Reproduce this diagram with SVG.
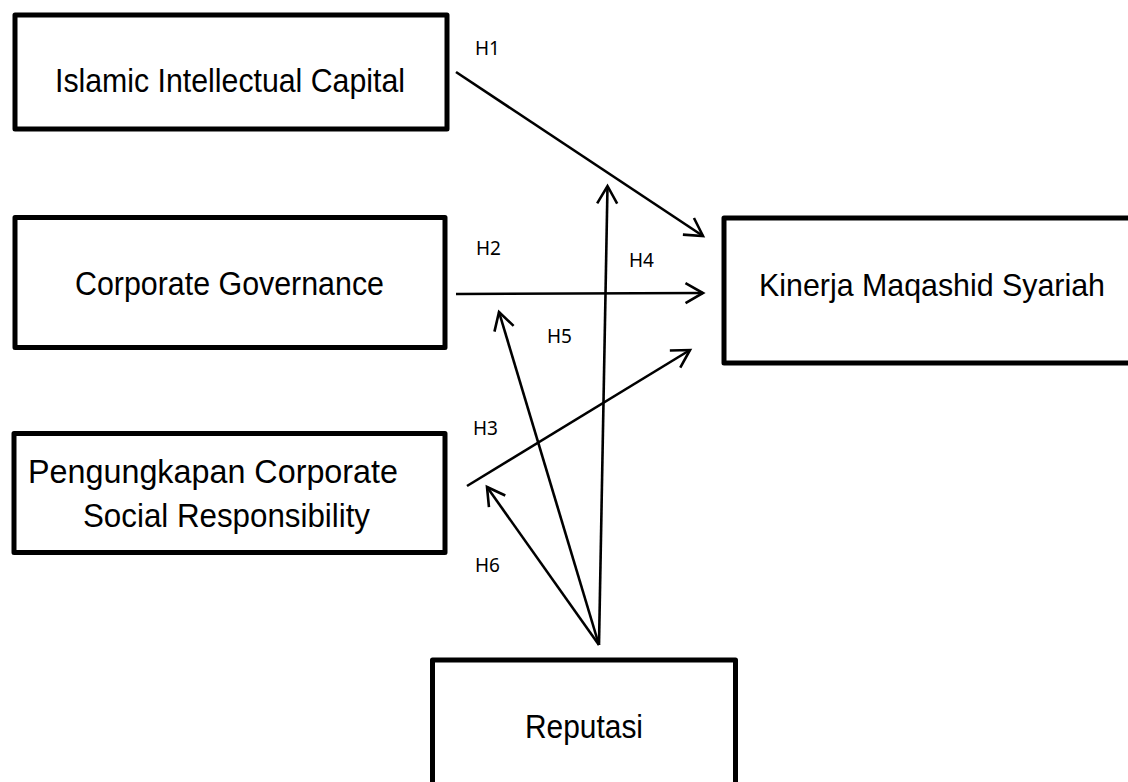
<svg xmlns="http://www.w3.org/2000/svg" width="1128" height="782" viewBox="0 0 1128 782">
  <style>
    .box { fill: #ffffff; stroke: #000000; stroke-width: 5; stroke-linejoin: round; }
    .lbl { font-family: "Liberation Sans", Arial, sans-serif; font-size: 34px; fill: #000000; }
    .h { font-family: "Noto Sans", "DejaVu Sans", sans-serif; font-size: 19px; fill: #000000; }
    .edge { fill: none; stroke: #000000; stroke-width: 2.6; marker-end: url(#arrow); }
  </style>
  <defs>
    <marker id="arrow" markerUnits="userSpaceOnUse" markerWidth="30" markerHeight="30" viewBox="-25 -15 30 30" refX="0" refY="0" orient="auto">
      <path d="M -17.5 -10 L 0 0 L -17.5 10" fill="none" stroke="#000000" stroke-width="2.6" stroke-linejoin="miter"/>
    </marker>
  </defs>
  <rect x="0" y="0" width="1128" height="782" fill="#ffffff"/>

  <g id="node-iic">
    <rect class="box" x="15" y="15" width="432" height="114"/>
    <text class="lbl" x="55" y="92" textLength="350" lengthAdjust="spacingAndGlyphs">Islamic Intellectual Capital</text>
  </g>
  <g id="node-cg">
    <rect class="box" x="15" y="217.5" width="430" height="130"/>
    <text class="lbl" x="75" y="295" textLength="309" lengthAdjust="spacingAndGlyphs">Corporate Governance</text>
  </g>
  <g id="node-csr">
    <rect class="box" x="14" y="433.5" width="431" height="119"/>
    <text class="lbl" x="28" y="483" textLength="370" lengthAdjust="spacingAndGlyphs">Pengungkapan Corporate</text>
    <text class="lbl" x="83" y="527" textLength="287" lengthAdjust="spacingAndGlyphs">Social Responsibility</text>
  </g>
  <g id="node-kms">
    <path class="box" d="M 1131 218 H 724 V 363 H 1131"/>
    <text class="lbl" x="759" y="296" font-size="32" textLength="346" lengthAdjust="spacingAndGlyphs" style="font-size:32px">Kinerja Maqashid Syariah</text>
  </g>
  <g id="node-rep">
    <rect class="box" x="432.5" y="660" width="303" height="140"/>
    <text class="lbl" x="525" y="738" textLength="118" lengthAdjust="spacingAndGlyphs">Reputasi</text>
  </g>

  <g id="connectors">
    <line class="edge" x1="456" y1="72" x2="703" y2="236"/>
    <line class="edge" x1="456" y1="294" x2="703" y2="293"/>
    <line class="edge" x1="467" y1="486" x2="690" y2="350"/>
    <line class="edge" x1="599" y1="645" x2="607.5" y2="186"/>
    <line class="edge" x1="599" y1="645" x2="499" y2="312"/>
    <line class="edge" x1="599" y1="645" x2="487" y2="487"/>
  </g>

  <g id="labels">
    <text class="h" x="475" y="55">H1</text>
    <text class="h" x="476" y="255">H2</text>
    <text class="h" x="473" y="435">H3</text>
    <text class="h" x="629" y="267">H4</text>
    <text class="h" x="547" y="343">H5</text>
    <text class="h" x="475" y="572">H6</text>
  </g>
</svg>
